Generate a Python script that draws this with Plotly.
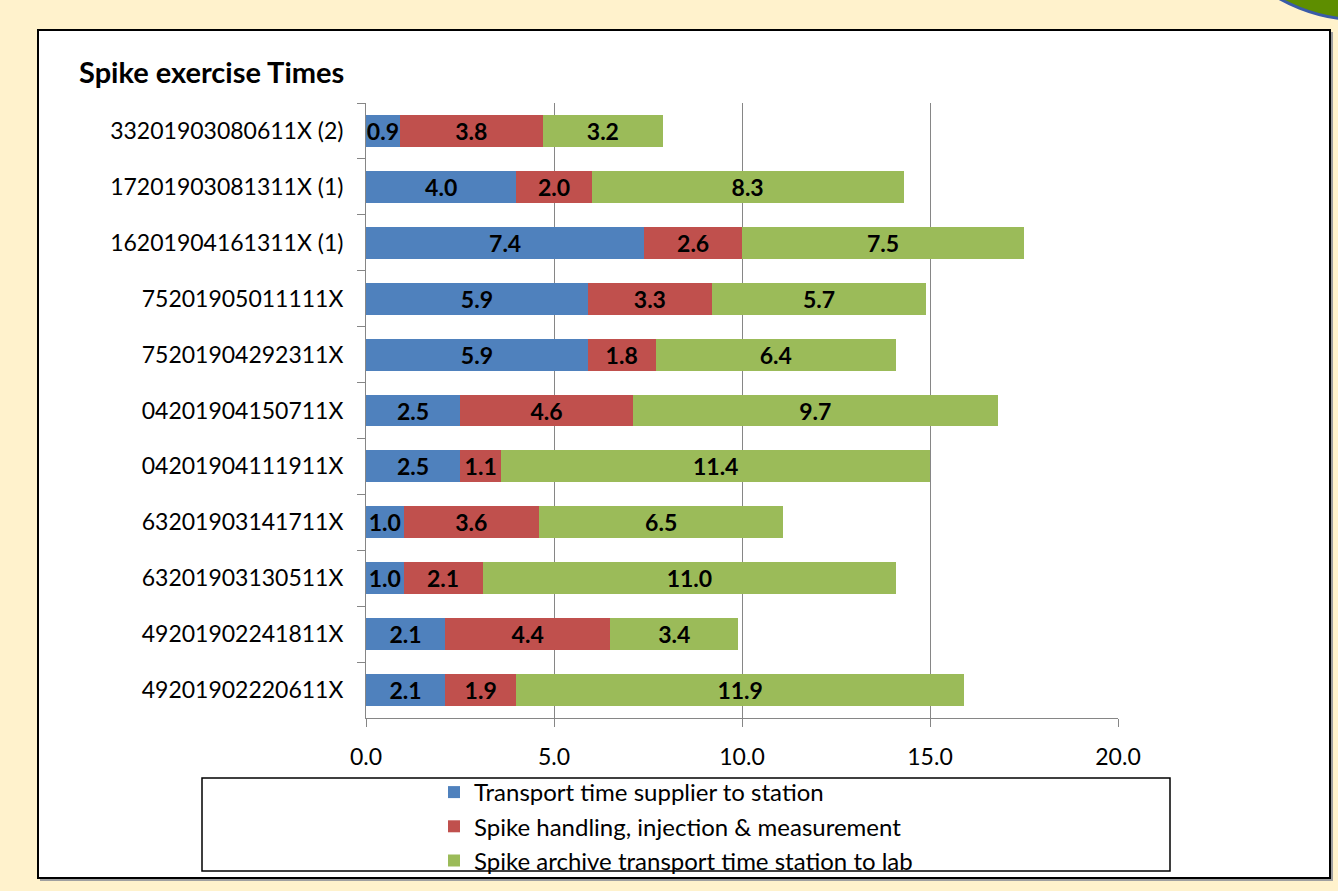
import plotly.graph_objects as go

categories = [
    "33201903080611X (2)",
    "17201903081311X (1)",
    "16201904161311X (1)",
    "75201905011111X",
    "75201904292311X",
    "04201904150711X",
    "04201904111911X",
    "63201903141711X",
    "63201903130511X",
    "49201902241811X",
    "49201902220611X",
]
transport_supplier = [0.9, 4.0, 7.4, 5.9, 5.9, 2.5, 2.5, 1.0, 1.0, 2.1, 2.1]
spike_handling = [3.8, 2.0, 2.6, 3.3, 1.8, 4.6, 1.1, 3.6, 2.1, 4.4, 1.9]
archive_transport = [3.2, 8.3, 7.5, 5.7, 6.4, 9.7, 11.4, 6.5, 11.0, 3.4, 11.9]

series_names = [
    "Transport time supplier to station",
    "Spike handling, injection & measurement",
    "Spike archive transport time station to lab",
]
series_values = [transport_supplier, spike_handling, archive_transport]
colors = ["#4F81BD", "#C0504D", "#9BBB59"]
x_ticks = [0, 5, 10, 15, 20]

W, H = 1338, 891
L, R, T, B = 366, 1118, 103, 718
FONT = "Lato"


def px(x):
    return (x - L) / (R - L)


def py(y):
    return (B - y) / (B - T)


fig = go.Figure()
for name, vals, col in zip(series_names, series_values, colors):
    fig.add_trace(go.Bar(
        y=categories, x=vals, name=name, orientation="h",
        marker=dict(color=col, line=dict(width=0)),
        texttemplate="%{x:.1f}", textposition="inside",
        insidetextanchor="middle", constraintext="none",
        textfont=dict(family=FONT, size=23, color="black", weight="bold"),
        textangle=0,
    ))

shapes = [
    # decorative corner shape
    dict(type="circle", xref="paper", yref="paper",
         x0=px(1362 - 170), x1=px(1362 + 170), y0=py(-150 + 170), y1=py(-150 - 170),
         fillcolor="#5E8E00", line=dict(color="#3A5BA8", width=3), layer="below"),
    # chart box shadow
    dict(type="rect", xref="paper", yref="paper",
         x0=px(40), x1=px(1333), y0=py(881), y1=py(32),
         fillcolor="#A0A0A0", line=dict(width=0), layer="below"),
    # chart box
    dict(type="rect", xref="paper", yref="paper",
         x0=px(38), x1=px(1330), y0=py(878), y1=py(30),
         fillcolor="white", line=dict(color="black", width=2), layer="below"),
    # legend box
    dict(type="rect", xref="paper", yref="paper",
         x0=px(202), x1=px(1170), y0=py(871), y1=py(778),
         fillcolor="rgba(0,0,0,0)", line=dict(color="black", width=1.5), layer="above"),
]

fig.update_layout(
    width=W, height=H,
    barmode="stack", bargap=0.428,
    paper_bgcolor="#FFF2CC", plot_bgcolor="rgba(0,0,0,0)",
    margin=dict(l=L, r=W - R, t=T, b=H - B, autoexpand=False),
    font=dict(family=FONT, size=23, color="black"),
    title=dict(text="<b>Spike exercise Times</b>", xref="container", yref="container",
               x=79 / W, xanchor="left", y=1 - 73 / H, yanchor="middle",
               font=dict(family=FONT, size=29, color="black")),
    shapes=shapes,
    showlegend=True,
    legend=dict(traceorder="normal", orientation="v",
                x=px(434), xanchor="left", y=py(770), yanchor="top",
                bgcolor="rgba(0,0,0,0)", borderwidth=0,
                font=dict(family=FONT, size=24, color="black"),
                itemwidth=30),
    xaxis=dict(range=[0, 20], tickvals=x_ticks, tickformat=".1f",
               showgrid=True, gridcolor="#868686", gridwidth=1,
               showline=True, linecolor="#868686", linewidth=1,
               ticks="outside", ticklen=8, tickcolor="#868686",
               zeroline=False, ticklabelstandoff=10,
               tickfont=dict(family=FONT, size=23, color="black")),
    yaxis=dict(autorange="reversed", type="category",
               showgrid=False, showline=True, linecolor="#868686", linewidth=1,
               ticks="outside", ticklen=8, tickcolor="#868686", tickson="boundaries",
               ticklabelstandoff=17,
               tickfont=dict(family=FONT, size=23, color="black")),
)

fig.write_html("out.html", config={"displayModeBar": False},
               post_script="document.body.style.margin='0';")
